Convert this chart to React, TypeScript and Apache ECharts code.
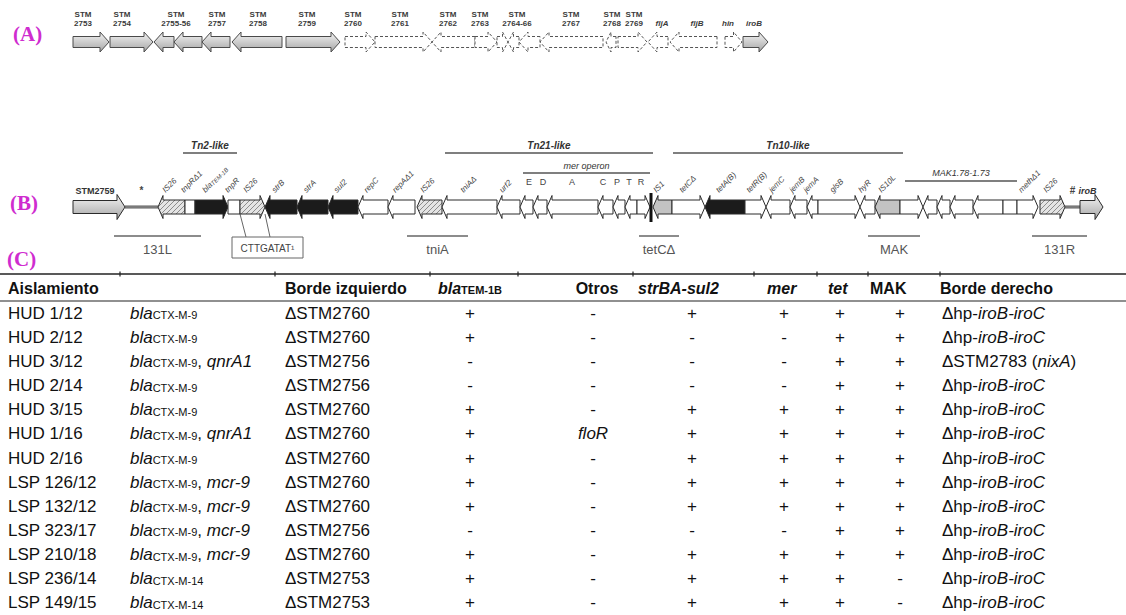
import React, { useEffect, useRef } from "react";
import * as echarts from "echarts";

const FONT = "'Liberation Sans', Arial, Helvetica, sans-serif";
const SERIF = "'Liberation Serif', 'Times New Roman', serif";

// ---------------- Panel A: genes [start, end, direction, status] ----------------
const panelAGenes: [number, number, string, string][] = [
  [73, 109, "r", "present"],
  [110, 153, "r", "present"],
  [154, 174, "l", "present"],
  [174, 202, "l", "present"],
  [202, 230, "l", "present"],
  [232, 282, "l", "present"],
  [286, 340, "r", "present"],
  [345, 375, "r", "deleted"],
  [375, 432, "r", "deleted"],
  [432, 475, "l", "deleted"],
  [475, 497, "r", "deleted"],
  [497, 508, "r", "deleted"],
  [508, 519, "l", "deleted"],
  [519, 540, "l", "deleted"],
  [540, 603, "l", "deleted"],
  [606, 616, "l", "deleted"],
  [618, 647, "r", "deleted"],
  [648, 668, "l", "deleted"],
  [670, 717, "l", "deleted"],
  [725, 742, "r", "deleted"],
  [743, 768, "r", "present"],
];

// Panel A gene names [text, position, italic]
const panelALabels: [string, number, boolean][] = [
  ["STM\n2753", 83, false],
  ["STM\n2754", 122, false],
  ["STM\n2755-56", 176, false],
  ["STM\n2757", 217, false],
  ["STM\n2758", 258, false],
  ["STM\n2759", 307, false],
  ["STM\n2760", 353, false],
  ["STM\n2761", 400, false],
  ["STM\n2762", 448, false],
  ["STM\n2763", 480, false],
  ["STM\n2764-66", 517, false],
  ["STM\n2767", 571, false],
  ["STM\n2768", 612, false],
  ["STM\n2769", 634, false],
  ["fljA", 662, true],
  ["fljB", 697, true],
  ["hin", 728, true],
  ["iroB", 754, true],
];

// ---------------- Panel B: genes [start, end, direction, kind, name] ----------------
const panelBGenes: [number, number, string, string, string][] = [
  [73, 125, "r", "flank", "STM2759"],
  [158, 185, "l", "is26", "IS26"],
  [185, 195, "n", "white", "tnpRΔ1"],
  [195, 228, "r", "res", "blaTEM-1B"],
  [228, 240, "n", "white", "tnpR"],
  [240, 265, "r", "is26", "IS26"],
  [265, 297, "l", "res", "strB"],
  [297, 328, "l", "res", "strA"],
  [328, 358, "l", "res", "sul2"],
  [358, 388, "l", "white", "repC"],
  [388, 415, "l", "white", "repAΔ1"],
  [417, 442, "l", "is26", "IS26"],
  [442, 497, "l", "white", "tniAΔ"],
  [497, 520, "l", "white", "urf2"],
  [520, 533, "l", "white", ""],
  [533, 547, "l", "white", ""],
  [547, 598, "l", "white", ""],
  [598, 613, "l", "white", ""],
  [613, 625, "l", "white", ""],
  [625, 637, "l", "white", ""],
  [637, 650, "r", "white", ""],
  [653, 672, "l", "is", "IS1"],
  [672, 705, "r", "white", "tetCΔ"],
  [705, 745, "l", "res", "tetA(B)"],
  [745, 766, "r", "white", "tetR(B)"],
  [766, 790, "l", "white", "jemC"],
  [790, 807, "l", "white", "jemB"],
  [807, 818, "l", "white", "jemA"],
  [818, 860, "r", "white", "glsB"],
  [860, 875, "l", "white", "hyR"],
  [875, 900, "l", "is", "IS10L"],
  [900, 923, "r", "white", ""],
  [923, 937, "l", "white", ""],
  [937, 950, "l", "white", ""],
  [950, 973, "l", "white", ""],
  [973, 1003, "l", "white", ""],
  [1003, 1017, "n", "white", ""],
  [1017, 1038, "r", "white", "methΔ1"],
  [1040, 1065, "r", "is26", "IS26"],
  [1080, 1103, "r", "flank", "iroB"],
];

// intergenic connectors [start, end, mark]
const panelBConnectors: [number, number, string][] = [
  [125, 158, "*"],
  [1065, 1080, "#"],
];
const panelBJunctions = [651];

// mer operon gene letters [letter, position]
const merLetters: [string, number][] = [
  ["E", 529], ["D", 543], ["A", 572], ["C", 603], ["P", 617], ["T", 629], ["R", 641],
];

// elements spanned above the map [name, start, end, tier]
const spanAnnotations: [string, number, number, string][] = [
  ["Tn2-like", 183, 237, "element"],
  ["Tn21-like", 445, 653, "element"],
  ["Tn10-like", 673, 903, "element"],
  ["mer operon", 523, 650, "operon"],
  ["MAK1.78-1.73", 905, 1017, "mak"],
];

// PCR regions below the map [name, start, end]
const pcrRegions: [string, number, number][] = [
  ["131L", 114, 201],
  ["tniA", 407, 468],
  ["tetCΔ", 639, 679],
  ["MAK", 868, 920],
  ["131R", 1032, 1087],
];

// ---------------- Panel C: table ----------------
const tableHeaders = [
  "{hb|Aislamiento}",
  "{hb|Borde izquierdo}",
  "{hbi|bla}{hs|TEM-1B}",
  "{hb|Otros}",
  "{hbi|strBA-sul2}",
  "{hbi|mer}",
  "{hbi|tet}",
  "{hb|MAK}",
  "{hb|Borde derecho}",
];
const isolates = [
  "HUD 1/12", "HUD 2/12", "HUD 3/12", "HUD 2/14", "HUD 3/15", "HUD 1/16", "HUD 2/16",
  "LSP 126/12", "LSP 132/12", "LSP 323/17", "LSP 210/18", "LSP 236/14", "LSP 149/15",
];
const blaCTXM = [
  "CTX-M-9", "CTX-M-9", "CTX-M-9", "CTX-M-9", "CTX-M-9", "CTX-M-9", "CTX-M-9",
  "CTX-M-9", "CTX-M-9", "CTX-M-9", "CTX-M-9", "CTX-M-14", "CTX-M-14",
];
const otherResistance = ["", "", "qnrA1", "", "", "qnrA1", "", "mcr-9", "mcr-9", "mcr-9", "mcr-9", "", ""];
const leftBorder = [
  "ΔSTM2760", "ΔSTM2760", "ΔSTM2756", "ΔSTM2756", "ΔSTM2760", "ΔSTM2760", "ΔSTM2760",
  "ΔSTM2760", "ΔSTM2760", "ΔSTM2756", "ΔSTM2760", "ΔSTM2753", "ΔSTM2753",
];
const blaTEM1B = ["+", "+", "-", "-", "+", "+", "+", "+", "+", "-", "+", "+", "+"];
const otros = ["-", "-", "-", "-", "-", "floR", "-", "-", "-", "-", "-", "-", "-"];
const strBAsul2 = ["+", "-", "-", "-", "+", "+", "+", "+", "+", "-", "+", "+", "+"];
const merGenes = ["+", "-", "-", "-", "+", "+", "+", "+", "+", "-", "+", "+", "+"];
const tetGenes = ["+", "+", "+", "+", "+", "+", "+", "+", "+", "+", "+", "+", "+"];
const makGenes = ["+", "+", "+", "+", "+", "+", "+", "+", "+", "+", "+", "-", "-"];
const rightBorder = [
  "Δhp-iroB-iroC", "Δhp-iroB-iroC", "ΔSTM2783 (nixA)", "Δhp-iroB-iroC", "Δhp-iroB-iroC",
  "Δhp-iroB-iroC", "Δhp-iroB-iroC", "Δhp-iroB-iroC", "Δhp-iroB-iroC", "Δhp-iroB-iroC",
  "Δhp-iroB-iroC", "Δhp-iroB-iroC", "Δhp-iroB-iroC",
];

// ---------------- layout (not data) ----------------
const TRACK_A = 42;
const TRACK_B = 207;
const HEADER_X = [8, 285, 438, 597, 638, 767, 828, 870, 940];
const HEADER_ALIGN = ["left", "left", "left", "center", "left", "left", "left", "left", "left"];
const COL_X = [8, 130, 285, 470, 593, 692, 784, 840, 900, 942];
const COL_ALIGN = ["left", "left", "left", "center", "center", "center", "center", "center", "center", "left"];
const RULE_TICKS = [120, 275, 430, 518, 633, 754, 817, 868, 940];
const MAGENTA = "#cf2ccf";

const tableRich: any = {
  n: { fontFamily: FONT, fontSize: 17, fill: "#111" },
  i: { fontFamily: FONT, fontSize: 17, fontStyle: "italic", fill: "#111" },
  s: { fontFamily: FONT, fontSize: 11, fill: "#111", verticalAlign: "middle", padding: [4, 0, 0, 0] },
  hb: { fontFamily: FONT, fontSize: 16, fontWeight: "bold", fill: "#111" },
  hbi: { fontFamily: FONT, fontSize: 16, fontWeight: "bold", fontStyle: "italic", fill: "#111" },
  hs: { fontFamily: FONT, fontSize: 11, fontWeight: "bold", fill: "#111", verticalAlign: "middle", padding: [4, 0, 0, 0] },
};

const geneRich: any = {
  g: { fontFamily: FONT, fontSize: 8, fontStyle: "italic", fill: "#444" },
  gs: { fontFamily: FONT, fontSize: 6, fontStyle: "italic", fill: "#444", verticalAlign: "middle", padding: [2, 0, 0, 0] },
};

function richItalic(s: string, re: RegExp): string {
  return s
    .split(re)
    .filter((p) => p !== "")
    .map((p) => (re.test(p) ? `{i|${p}}` : `{n|${p}}`))
    .join("");
}

function arrowPts(x0: number, x1: number, yc: number, dir: string, bh: number, hh: number, hl: number) {
  const h = Math.min(hl, (x1 - x0) * 0.5);
  if (dir === "r") {
    const hx = x1 - h;
    return [[x0, yc - bh], [hx, yc - bh], [hx, yc - hh], [x1, yc], [hx, yc + hh], [hx, yc + bh], [x0, yc + bh]];
  }
  if (dir === "l") {
    const hx = x0 + h;
    return [[x1, yc - bh], [hx, yc - bh], [hx, yc - hh], [x0, yc], [hx, yc + hh], [hx, yc + bh], [x1, yc + bh]];
  }
  return [[x0, yc - bh], [x1, yc - bh], [x1, yc + bh], [x0, yc + bh]];
}

function makeHatch() {
  const c = document.createElement("canvas");
  c.width = 5;
  c.height = 5;
  const ctx = c.getContext("2d");
  if (ctx) {
    ctx.fillStyle = "#e4e4e4";
    ctx.fillRect(0, 0, 5, 5);
    ctx.strokeStyle = "#8c8c8c";
    ctx.lineWidth = 1;
    ctx.beginPath();
    ctx.moveTo(0, 5);
    ctx.lineTo(5, 0);
    ctx.moveTo(-1, 1);
    ctx.lineTo(1, -1);
    ctx.moveTo(4, 6);
    ctx.lineTo(6, 4);
    ctx.stroke();
  }
  return { image: c.toDataURL(), repeat: "repeat", imageWidth: 5, imageHeight: 5 };
}

function buildOption() {
  const grayFill = new echarts.graphic.LinearGradient(0, 0, 0, 1, [
    { offset: 0, color: "#f4f4f4" },
    { offset: 1, color: "#a6a6a6" },
  ]);
  const hatch = makeHatch();
  const fillFor = (kind: string) => {
    if (kind === "flank") return grayFill;
    if (kind === "res") return "#1b1b1b";
    if (kind === "is26") return hatch;
    if (kind === "is") return "#c3c3c3";
    return "#ffffff";
  };

  const graphic: any[] = [
    { type: "text", x: 13, y: 34, style: { text: "(A)", fontFamily: SERIF, fontSize: 21, fontWeight: "bold", fill: MAGENTA, verticalAlign: "middle" } },
    { type: "text", x: 10, y: 203, style: { text: "(B)", fontFamily: SERIF, fontSize: 21, fontWeight: "bold", fill: MAGENTA, verticalAlign: "middle" } },
    { type: "text", x: 7, y: 259, style: { text: "(C)", fontFamily: SERIF, fontSize: 21, fontWeight: "bold", fill: MAGENTA, verticalAlign: "middle" } },
    // CTTGATAT box
    { type: "rect", shape: { x: 232, y: 237, width: 71, height: 21 }, style: { fill: "#fff", stroke: "#666", lineWidth: 1 } },
    { type: "text", x: 267.5, y: 248, style: { text: "CTTGATAT¹", fontFamily: FONT, fontSize: 10, fill: "#444", align: "center", verticalAlign: "middle" } },
    { type: "line", shape: { x1: 246, y1: 237, x2: 240, y2: 214 }, style: { stroke: "#666", lineWidth: 1 } },
    { type: "line", shape: { x1: 270, y1: 237, x2: 265, y2: 214 }, style: { stroke: "#666", lineWidth: 1 } },
    // table rules
    { type: "line", shape: { x1: 0, y1: 274, x2: 1126, y2: 274 }, style: { stroke: "#222", lineWidth: 1.5 } },
    { type: "line", shape: { x1: 0, y1: 301, x2: 1126, y2: 301 }, style: { stroke: "#222", lineWidth: 1.2 } },
  ];
  RULE_TICKS.forEach((x) => {
    graphic.push({ type: "line", shape: { x1: x, y1: 271.5, x2: x, y2: 276.5 }, style: { stroke: "#222", lineWidth: 1.2 } });
  });
  tableHeaders.forEach((h, k) => {
    graphic.push({
      type: "text",
      x: HEADER_X[k],
      y: 288,
      style: { text: h, rich: tableRich, fontFamily: FONT, fontSize: 16, align: HEADER_ALIGN[k], verticalAlign: "middle" },
    });
  });

  const series: any[] = [];

  // Panel A genes
  series.push({
    type: "custom",
    xAxisIndex: 0,
    yAxisIndex: 0,
    silent: true,
    data: panelAGenes.map((g) => [g[0], g[1]]),
    renderItem: (params: any, api: any) => {
      const g = panelAGenes[params.dataIndex];
      const [x0, yc] = api.coord([api.value(0), TRACK_A]);
      const [x1] = api.coord([api.value(1), TRACK_A]);
      const pts = arrowPts(x0, x1, yc, g[2], 5.5, 10, 9);
      const present = g[3] === "present";
      return {
        type: "polygon",
        shape: { points: pts },
        style: present
          ? { fill: grayFill, stroke: "#4a4a4a", lineWidth: 1 }
          : { fill: "#fff", stroke: "#555", lineWidth: 1, lineDash: [3, 2] },
      };
    },
  });

  // Panel A labels
  series.push({
    type: "custom",
    xAxisIndex: 0,
    yAxisIndex: 0,
    silent: true,
    data: panelALabels.map((l) => [l[1], l[1]]),
    renderItem: (params: any, api: any) => {
      const l = panelALabels[params.dataIndex];
      const [x, y] = api.coord([api.value(0), 28]);
      return {
        type: "text",
        x,
        y,
        style: {
          text: l[0],
          fontFamily: FONT,
          fontSize: 8,
          fontWeight: "bold",
          fontStyle: l[2] ? "italic" : "normal",
          lineHeight: 9,
          fill: "#3a3a3a",
          align: "center",
          verticalAlign: "bottom",
        },
      };
    },
  });

  // Panel B connectors
  series.push({
    type: "custom",
    xAxisIndex: 0,
    yAxisIndex: 0,
    silent: true,
    data: panelBConnectors.map((c) => [c[0], c[1]]),
    renderItem: (params: any, api: any) => {
      const c = panelBConnectors[params.dataIndex];
      const [x0, yc] = api.coord([api.value(0), TRACK_B]);
      const [x1] = api.coord([api.value(1), TRACK_B]);
      return {
        type: "group",
        children: [
          { type: "line", shape: { x1: x0, y1: yc, x2: x1, y2: yc }, style: { stroke: "#5a5a5a", lineWidth: 3 } },
          { type: "line", shape: { x1: x0, y1: yc, x2: x1, y2: yc }, style: { stroke: "#9a9a9a", lineWidth: 1 } },
          {
            type: "text",
            x: (x0 + x1) / 2,
            y: yc - 12,
            style: { text: c[2], fontFamily: FONT, fontSize: 10, fontWeight: "bold", fill: "#444", align: "center", verticalAlign: "bottom" },
          },
        ],
      };
    },
  });

  // Panel B genes
  series.push({
    type: "custom",
    xAxisIndex: 0,
    yAxisIndex: 0,
    silent: true,
    data: panelBGenes.map((g) => [g[0], g[1]]),
    renderItem: (params: any, api: any) => {
      const g = panelBGenes[params.dataIndex];
      const [x0, yc] = api.coord([api.value(0), TRACK_B]);
      const [x1] = api.coord([api.value(1), TRACK_B]);
      const flank = g[3] === "flank";
      const pts = flank ? arrowPts(x0, x1, yc, g[2], 6.5, 12.5, 8) : arrowPts(x0, x1, yc, g[2], 7, 11.5, 5);
      const children: any[] = [
        { type: "polygon", shape: { points: pts }, style: { fill: fillFor(g[3]), stroke: "#2a2a2a", lineWidth: 1 } },
      ];
      if (g[4]) {
        if (flank) {
          const bodyC = g[2] === "r" ? (x0 + x1 - 8) / 2 : (x0 + x1 + 8) / 2;
          children.push({
            type: "text",
            x: bodyC,
            y: yc - 12,
            style: {
              text: g[4],
              fontFamily: FONT,
              fontSize: 9,
              fontWeight: "bold",
              fontStyle: g[4] === "iroB" ? "italic" : "normal",
              fill: "#333",
              align: "center",
              verticalAlign: "bottom",
            },
          });
        } else {
          const txt = g[4].startsWith("bla") ? `{g|bla}{gs|${g[4].slice(3)}}` : `{g|${g[4]}}`;
          children.push({
            type: "text",
            x: (x0 + x1) / 2 - 5,
            y: yc - 13,
            rotation: Math.PI / 4,
            style: { text: txt, rich: geneRich, fontFamily: FONT, fontSize: 8, fill: "#444", align: "left", verticalAlign: "bottom" },
          });
        }
      }
      return { type: "group", children };
    },
  });

  // junction bar
  series.push({
    type: "custom",
    xAxisIndex: 0,
    yAxisIndex: 0,
    silent: true,
    data: panelBJunctions.map((x) => [x, x]),
    renderItem: (params: any, api: any) => {
      const [x, yc] = api.coord([api.value(0), TRACK_B]);
      return { type: "line", shape: { x1: x, y1: yc - 14, x2: x, y2: yc + 15 }, style: { stroke: "#111", lineWidth: 3 } };
    },
  });

  // mer letters
  series.push({
    type: "custom",
    xAxisIndex: 0,
    yAxisIndex: 0,
    silent: true,
    data: merLetters.map((m) => [m[1], m[1]]),
    renderItem: (params: any, api: any) => {
      const m = merLetters[params.dataIndex];
      const [x, y] = api.coord([api.value(0), 182]);
      return {
        type: "text",
        x,
        y,
        style: { text: m[0], fontFamily: FONT, fontSize: 9, fill: "#444", align: "center", verticalAlign: "middle" },
      };
    },
  });

  // span annotations
  const tierLayout: any = {
    element: { line: 153, text: 145, size: 10, weight: "bold" },
    operon: { line: 173, text: 166, size: 9, weight: "normal" },
    mak: { line: 181, text: 173, size: 9, weight: "normal" },
  };
  series.push({
    type: "custom",
    xAxisIndex: 0,
    yAxisIndex: 0,
    silent: true,
    data: spanAnnotations.map((a) => [a[1], a[2]]),
    renderItem: (params: any, api: any) => {
      const a = spanAnnotations[params.dataIndex];
      const t = tierLayout[a[3]];
      const [x0, ly] = api.coord([api.value(0), t.line]);
      const [x1, ty] = api.coord([api.value(1), t.text]);
      return {
        type: "group",
        children: [
          { type: "line", shape: { x1: x0, y1: ly, x2: x1, y2: ly }, style: { stroke: "#555", lineWidth: 1.3 } },
          {
            type: "text",
            x: (x0 + x1) / 2,
            y: ty,
            style: { text: a[0], fontFamily: FONT, fontSize: t.size, fontWeight: t.weight, fontStyle: "italic", fill: "#333", align: "center", verticalAlign: "middle" },
          },
        ],
      };
    },
  });

  // PCR regions
  series.push({
    type: "custom",
    xAxisIndex: 0,
    yAxisIndex: 0,
    silent: true,
    data: pcrRegions.map((p) => [p[1], p[2]]),
    renderItem: (params: any, api: any) => {
      const p = pcrRegions[params.dataIndex];
      const [x0, ly] = api.coord([api.value(0), 236]);
      const [x1, ty] = api.coord([api.value(1), 249]);
      return {
        type: "group",
        children: [
          { type: "line", shape: { x1: x0, y1: ly, x2: x1, y2: ly }, style: { stroke: "#666", lineWidth: 1.5 } },
          {
            type: "text",
            x: (x0 + x1) / 2,
            y: ty,
            style: { text: p[0], fontFamily: FONT, fontSize: 13, fill: "#555", align: "center", verticalAlign: "middle" },
          },
        ],
      };
    },
  });

  // Table rows
  series.push({
    type: "custom",
    xAxisIndex: 1,
    yAxisIndex: 1,
    silent: true,
    data: isolates.map((_, i) => [0, i]),
    renderItem: (params: any, api: any) => {
      const i = params.dataIndex;
      const y = api.coord([0, api.value(1)])[1];
      const geneTxt = `{i|bla}{s|${blaCTXM[i]}}` + (otherResistance[i] ? `{n|, }{i|${otherResistance[i]}}` : "");
      const cells = [
        `{n|${isolates[i]}}`,
        geneTxt,
        `{n|${leftBorder[i]}}`,
        `{n|${blaTEM1B[i]}}`,
        otros[i] === "-" ? `{n|-}` : `{i|${otros[i]}}`,
        `{n|${strBAsul2[i]}}`,
        `{n|${merGenes[i]}}`,
        `{n|${tetGenes[i]}}`,
        `{n|${makGenes[i]}}`,
        richItalic(rightBorder[i], /(iroB-iroC|nixA)/),
      ];
      return {
        type: "group",
        children: cells.map((c, k) => ({
          type: "text",
          x: api.coord([COL_X[k], api.value(1)])[0],
          y,
          style: { text: c, rich: tableRich, fontFamily: FONT, fontSize: 17, fill: "#111", align: COL_ALIGN[k], verticalAlign: "middle" },
        })),
      };
    },
  });

  return {
    animation: false,
    backgroundColor: "#ffffff",
    grid: [
      { left: 0, top: 0, width: 1126, height: 615, show: false, outerBoundsMode: "none" },
      { left: 0, top: 301, width: 1126, height: 314, show: false, outerBoundsMode: "none" },
    ],
    xAxis: [
      { type: "value", gridIndex: 0, min: 0, max: 1126, show: false },
      { type: "value", gridIndex: 1, min: 0, max: 1126, show: false },
    ],
    yAxis: [
      { type: "value", gridIndex: 0, min: 0, max: 615, inverse: true, show: false },
      { type: "category", gridIndex: 1, data: isolates, inverse: true, show: false },
    ],
    graphic,
    series,
  };
}

export default function App() {
  const ref = useRef<HTMLDivElement>(null);
  useEffect(() => {
    if (!ref.current) return;
    const chart = echarts.init(ref.current, null, { renderer: "svg" });
    chart.setOption(buildOption() as any);
    return () => chart.dispose();
  }, []);
  return (
    <div
      ref={ref}
      style={{ position: "absolute", left: 0, top: 0, width: 1126, height: 615, background: "#fff" }}
    />
  );
}
